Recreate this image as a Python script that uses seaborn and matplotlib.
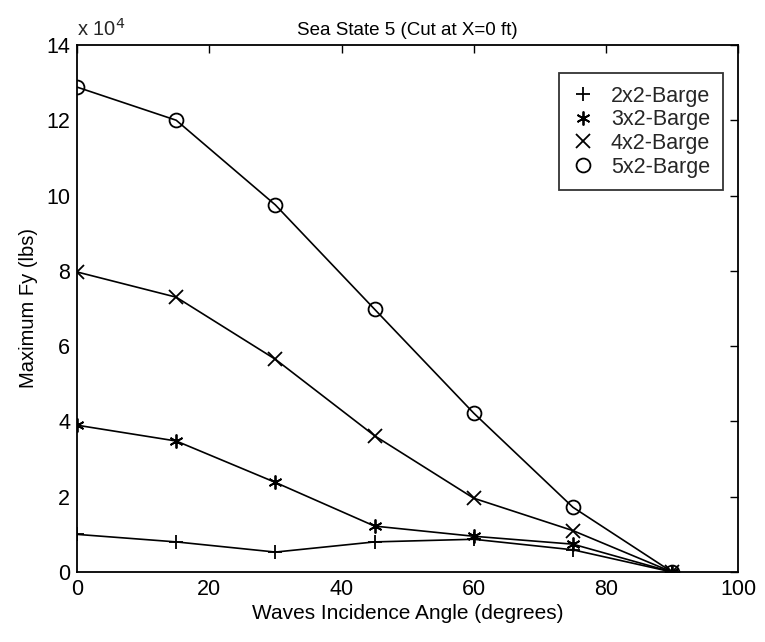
import matplotlib
matplotlib.use("Agg")
import matplotlib.pyplot as plt
import seaborn as sns
import pandas as pd
from matplotlib.lines import Line2D
from matplotlib.ticker import FuncFormatter

angles = [0, 15, 30, 45, 60, 75, 90]
fy_2x2 = [10000, 8000, 5300, 8000, 8700, 5900, 0]
fy_3x2 = [39000, 34800, 23800, 12200, 9500, 7400, 0]
fy_4x2 = [79700, 73000, 56500, 36200, 19600, 11000, 0]
fy_5x2 = [128800, 120000, 97500, 69800, 42200, 17200, 0]
series_names = ["2x2-Barge", "3x2-Barge", "4x2-Barge", "5x2-Barge"]
x_ticks = [0, 20, 40, 60, 80, 100]
y_ticks = [0, 20000, 40000, 60000, 80000, 100000, 120000, 140000]

sns.set_theme(style="white")
plt.rcParams['font.family'] = ['Liberation Sans', 'DejaVu Sans']

df = pd.DataFrame({
    "angle": angles * 4,
    "fy": fy_2x2 + fy_3x2 + fy_4x2 + fy_5x2,
    "barge": [n for n in series_names for _ in angles],
})

markers = {"2x2-Barge": "+", "3x2-Barge": (6, 2, 0), "4x2-Barge": "x", "5x2-Barge": "o"}

fig = plt.figure(figsize=(7.65, 6.42), dpi=100)
ax = fig.add_axes([0.1007, 0.109, 0.8643, 0.821])

for name in series_names:
    sub = df[df["barge"] == name]
    sns.lineplot(data=sub, x="angle", y="fy", ax=ax, color="black", linewidth=1.2,
                 marker=markers[name], markersize=10, markerfacecolor="none",
                 markeredgecolor="black", markeredgewidth=1.3, legend=False)

ax.set_xlim(0, 100)
ax.set_ylim(0, 140000)
ax.set_xticks(x_ticks)
ax.set_yticks(y_ticks)
ax.yaxis.set_major_formatter(FuncFormatter(lambda v, p: f"{v/1e4:g}"))
ax.tick_params(direction="in", length=6, width=1, top=True, right=True,
               labelsize=15.5, colors="black", pad=5)
for s in ax.spines.values():
    s.set_color("black")
    s.set_linewidth(1.3)

ax.set_xlabel("Waves Incidence Angle (degrees)", fontsize=15, color="black", labelpad=3)
ax.set_ylabel("Maximum Fy (lbs)", fontsize=14.5, color="black", labelpad=6)
ax.set_title("Sea State 5 (Cut at X=0 ft)", fontsize=13.5, color="black", pad=7)
ax.text(0.0, 1.01, "x 10$^4$", transform=ax.transAxes, fontsize=14.5, ha="left", va="bottom")

handles = [Line2D([], [], linestyle="none", marker=markers[n], markersize=10,
                  markerfacecolor="none", markeredgecolor="black", markeredgewidth=1.3)
           for n in series_names]
leg = ax.legend(handles, series_names, loc="upper right", bbox_to_anchor=(0.977, 0.947),
                fontsize=15.5, frameon=True, fancybox=False, handlelength=1.0,
                handletextpad=0.8, labelspacing=0.12, borderpad=0.6, borderaxespad=0)
leg.get_frame().set_edgecolor("black")
leg.get_frame().set_linewidth(1.3)

fig.savefig("out.png", dpi=100, facecolor="white")
